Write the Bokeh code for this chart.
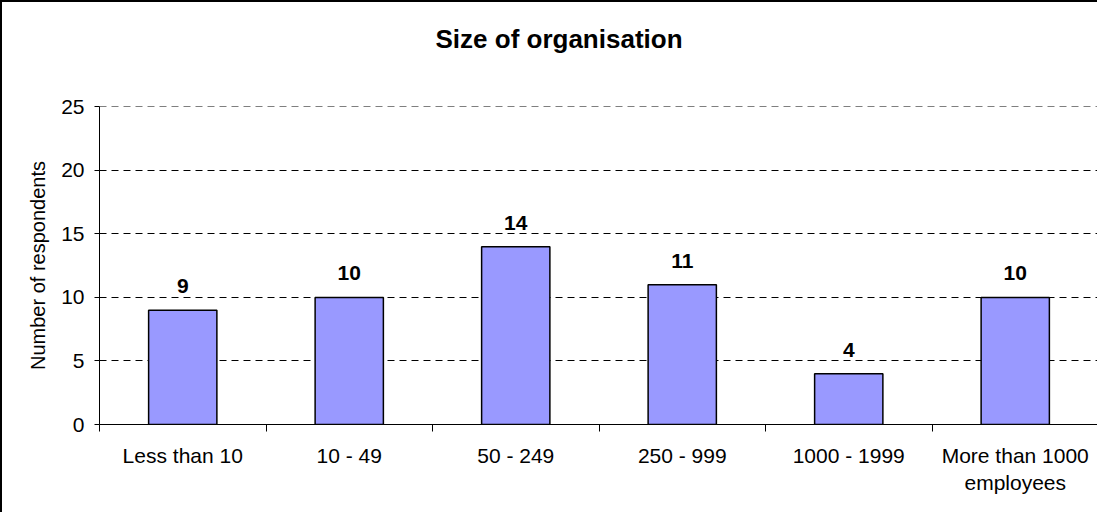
from bokeh.plotting import figure
from bokeh.models import ColumnDataSource, Range1d, FixedTicker, LabelSet
from bokeh.core.properties import value
from bokeh.embed import file_html
from bokeh.resources import INLINE

title_text = "Size of organisation"
y_axis_title = "Number of respondents"
categories = ["Less than 10", "10 - 49", "50 - 249", "250 - 999", "1000 - 1999",
              "More than 1000\nemployees"]
counts = [9, 10, 14, 11, 4, 10]
y_ticks = [0, 5, 10, 15, 20, 25]

xs = [i + 0.5 for i in range(len(categories))]
src = ColumnDataSource(dict(x=xs, count=counts, label=[str(c) for c in counts]))

FONT = "Liberation Sans"
W, H = 1097, 512

p = figure(width=W, height=H, output_backend="svg", toolbar_location=None,
           x_range=Range1d(0, len(categories)), y_range=Range1d(0, 25.03),
           min_border_left=97, min_border_right=1, min_border_top=102,
           min_border_bottom=90)
p.styles = {"border-left": "2px solid #000", "border-top": "2px solid #000"}
p.outline_line_color = None
p.background_fill_color = "white"
p.border_fill_color = "white"

# a blank second line lifts the title line within the title panel
p.title.text = title_text + "\n "
p.title.text_font = FONT
p.title.text_font_size = "26px"
p.title.text_font_style = "bold"
p.title.text_color = "black"
p.title.align = "left"
p.title.offset = 336
p.title.vertical_align = "top"
p.title.standoff = 42

p.vbar(x="x", top="count", bottom=0, width=0.41, source=src,
       fill_color="#9999FF", line_color="black", line_width=1.5)

labels = LabelSet(x="x", y="count", text="label", source=src, y_offset=17,
                  text_align="center", text_baseline="alphabetic",
                  text_font=value(FONT), text_font_size=value("21px"),
                  text_font_style=value("bold"), text_color="black",
                  background_fill_color="white",
                  border_line_color="white", border_line_width=6)
p.add_layout(labels)

xa = p.xaxis[0]
xa.ticker = FixedTicker(ticks=xs, minor_ticks=list(range(len(categories) + 1)))
xa.major_label_overrides = {x: c for x, c in zip(xs, categories)}
xa.major_tick_line_color = None
xa.major_tick_out = 0
xa.major_tick_in = 0
xa.minor_tick_line_color = "black"
xa.minor_tick_out = 7
xa.minor_tick_in = 0
xa.major_label_standoff = 12
xa.major_label_text_font = FONT
xa.major_label_text_font_size = "21px"
xa.major_label_text_color = "black"
xa.axis_line_color = "black"

ya = p.yaxis[0]
ya.ticker = FixedTicker(ticks=y_ticks, minor_ticks=[])
ya.major_tick_out = 5
ya.major_tick_in = 0
ya.major_tick_line_color = "black"
ya.axis_line_color = "black"
ya.major_label_standoff = 10
ya.major_label_text_font = FONT
ya.major_label_text_font_size = "21px"
ya.major_label_text_color = "black"
ya.axis_label = y_axis_title
ya.axis_label_text_font = FONT
ya.axis_label_text_font_size = "20px"
ya.axis_label_text_font_style = "normal"
ya.axis_label_text_color = "black"
ya.axis_label_standoff = 9

p.xgrid.grid_line_color = None
p.ygrid.ticker = FixedTicker(ticks=y_ticks[1:])
p.ygrid.grid_line_color = "black"
p.ygrid.grid_line_dash = "7 5"
p.ygrid.grid_line_width = 1

open("out.html", "w").write(file_html(p, INLINE))
